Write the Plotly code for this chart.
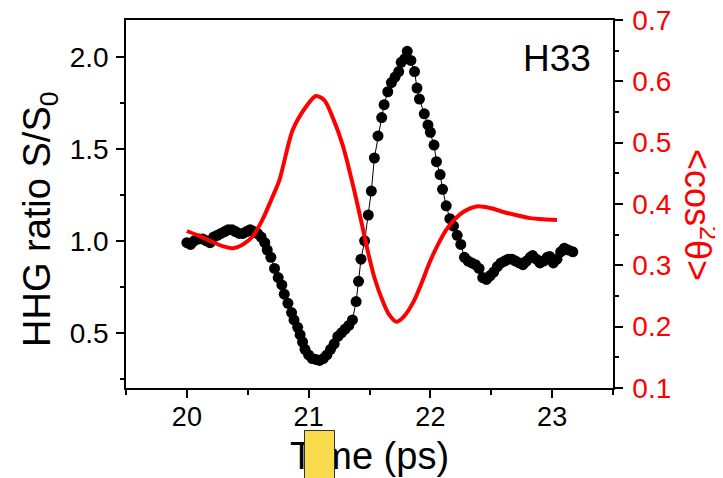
import plotly.graph_objects as go

# ---- data ----
time_ps = [20.00, 20.03, 20.06, 20.10, 20.13, 20.16, 20.19, 20.22, 20.25, 20.28,
           20.31, 20.34, 20.37, 20.40, 20.43, 20.46, 20.49, 20.52, 20.55, 20.58,
           20.61, 20.64, 20.66, 20.69, 20.72, 20.75, 20.78, 20.80, 20.83, 20.86,
           20.88, 20.91, 20.93, 20.95, 20.97, 21.00, 21.03, 21.06, 21.09, 21.12,
           21.15, 21.18, 21.21, 21.24, 21.27, 21.30, 21.33, 21.36, 21.39, 21.41,
           21.43, 21.46, 21.49, 21.515, 21.54, 21.57, 21.60, 21.62, 21.65, 21.68,
           21.71, 21.74, 21.76, 21.79, 21.81, 21.84, 21.87, 21.89, 21.91, 21.95,
           21.98, 22.00, 22.03, 22.05, 22.08, 22.10, 22.13, 22.16, 22.19, 22.22,
           22.25, 22.28, 22.31, 22.34, 22.37, 22.40, 22.43, 22.46, 22.49, 22.52,
           22.55, 22.58, 22.61, 22.64, 22.67, 22.70, 22.73, 22.76, 22.79, 22.82,
           22.84, 22.87, 22.90, 22.93, 22.96, 22.98, 23.01, 23.04, 23.07, 23.10,
           23.13, 23.17]
hhg_ratio = [0.99, 0.98, 1.00, 1.01, 1.01, 1.00, 0.99, 1.02, 1.03, 1.04,
             1.05, 1.06, 1.06, 1.05, 1.04, 1.04, 1.05, 1.06, 1.05, 1.04,
             1.02, 0.99, 0.95, 0.91, 0.85, 0.80, 0.76, 0.71, 0.66, 0.61,
             0.57, 0.53, 0.49, 0.45, 0.41, 0.38, 0.36, 0.355, 0.35, 0.36,
             0.38, 0.41, 0.44, 0.48, 0.50, 0.52, 0.54, 0.57, 0.67, 0.78,
             0.90, 1.00, 1.14, 1.27, 1.45, 1.57, 1.67, 1.74, 1.81, 1.86,
             1.89, 1.92, 1.97, 1.99, 2.03, 1.98, 1.92, 1.83, 1.77, 1.69,
             1.63, 1.59, 1.52, 1.43, 1.36, 1.28, 1.19, 1.12, 1.08, 1.03,
             0.98, 0.91, 0.89, 0.88, 0.87, 0.85, 0.80, 0.79, 0.81, 0.83,
             0.86, 0.88, 0.89, 0.90, 0.90, 0.89, 0.88, 0.87, 0.89, 0.91,
             0.92, 0.90, 0.88, 0.89, 0.91, 0.915, 0.88, 0.90, 0.94, 0.96,
             0.95, 0.94]

align_time = [20.0, 20.1, 20.2, 20.3, 20.38, 20.46, 20.54, 20.62, 20.7, 20.76,
              20.87, 20.98, 21.06, 21.13, 21.2, 21.28, 21.364, 21.433, 21.487, 21.542,
              21.61, 21.66, 21.72, 21.78, 21.86, 21.93, 21.99, 22.06, 22.13, 22.2,
              22.27, 22.38, 22.5, 22.6, 22.7, 22.82, 22.93, 23.04]
align_cos2 = [0.356, 0.348, 0.339, 0.331, 0.328, 0.334, 0.347, 0.374, 0.41, 0.439,
              0.521, 0.559, 0.576, 0.569, 0.54, 0.496, 0.431, 0.371, 0.322, 0.279,
              0.241, 0.22, 0.208, 0.216, 0.24, 0.272, 0.303, 0.333, 0.358, 0.375,
              0.387, 0.396, 0.393, 0.387, 0.382, 0.377, 0.375, 0.374]

x_ticks = [20, 21, 22, 23]
y_ticks = [0.5, 1.0, 1.5, 2.0]
y2_ticks = [0.1, 0.2, 0.3, 0.4, 0.5, 0.6, 0.7]
x_range = [19.5, 23.5]
y_range = [0.2, 2.2]
y2_range = [0.1, 0.7]

FONT = "Liberation Sans, Arial, sans-serif"
RED = "#FF0000"

# the page places the figure 8px in from the top-left corner (body margin)
OFF = 8
W, H = 723 - OFF, 478 - OFF
L, T = 126 - OFF, 20 - OFF
pw, ph = 487, 368
R, B = W - L - pw, H - T - ph


def px_x(px):
    """window pixel x -> paper fraction"""
    return (px - OFF - L) / pw


def px_y(py):
    """window pixel y -> paper fraction"""
    return (T + ph - (py - OFF)) / ph


fig = go.Figure()
fig.add_trace(go.Scatter(
    x=time_ps, y=hhg_ratio, mode="lines+markers",
    line=dict(color="black", width=1),
    marker=dict(color="black", size=11),
    yaxis="y", showlegend=False))
fig.add_trace(go.Scatter(
    x=align_time, y=align_cos2, mode="lines",
    line=dict(color=RED, width=4, shape="spline", smoothing=0.8),
    yaxis="y2", showlegend=False))

axis_common = dict(showgrid=False, zeroline=False, showline=True, automargin=False,
                   linecolor="black", linewidth=1.5, ticklabeloverflow="allow",
                   ticks="outside", ticklen=8, tickwidth=1.5, tickcolor="black")

fig.update_layout(
    width=W, height=H,
    margin=dict(l=L, r=R, t=T, b=B, autoexpand=False),
    paper_bgcolor="white", plot_bgcolor="white",
    font=dict(family=FONT, color="black"),
    xaxis=dict(range=x_range, tickvals=x_ticks, ticktext=[str(v) for v in x_ticks],
               mirror=True, tickfont=dict(size=27, color="black"),
               ticklabelstandoff=-4,
               minor=dict(ticks="outside", ticklen=5, tickwidth=1.5,
                          tickcolor="black", tick0=19.5, dtick=0.5),
               **axis_common),
    yaxis=dict(range=y_range, tickvals=y_ticks, tickformat=".1f",
               tickfont=dict(size=28, color="black"),
               ticklabelstandoff=2,
               minor=dict(ticks="outside", ticklen=4, tickwidth=1.5,
                          tickcolor="black", tick0=0, dtick=0.25),
               **axis_common),
    yaxis2=dict(range=y2_range, tickvals=y2_ticks, tickformat=".1f",
                overlaying="y", side="right",
                tickfont=dict(size=28, color=RED),
                ticklabelstandoff=4,
                minor=dict(ticks="outside", ticklen=4, tickwidth=1.5,
                           tickcolor="black", tick0=0, dtick=0.05),
                **axis_common),
    annotations=[
        dict(text="HHG ratio S/S<sub>0</sub>", textangle=-90,
             xref="paper", yref="paper", x=px_x(40), y=px_y(219),
             xanchor="center", yanchor="middle", showarrow=False,
             font=dict(size=38, color="black", family=FONT)),
        dict(text="Time (ps)",
             xref="paper", yref="paper", x=0.5, y=px_y(456),
             xanchor="center", yanchor="middle", showarrow=False,
             font=dict(size=38, color="black", family=FONT)),
        dict(text=" ", xref="paper", yref="paper", x=px_x(319.7), y=px_y(454.5),
             xanchor="center", yanchor="middle", showarrow=False,
             width=29, height=48, bgcolor="#F9DC4E", bordercolor="#333333",
             borderwidth=1, borderpad=0, font=dict(size=10)),
        dict(text="&lt;cos<sup>2</sup>θ&gt;", textangle=90,
             xref="paper", yref="paper", x=px_x(700), y=px_y(215),
             xanchor="center", yanchor="middle", showarrow=False,
             font=dict(size=36, color=RED, family=FONT)),
        dict(text="H33", xref="paper", yref="paper", x=px_x(557), y=px_y(59),
             xanchor="center", yanchor="middle", showarrow=False,
             font=dict(size=37, color="black", family=FONT)),
    ],
)

fig.write_html("out.html")
